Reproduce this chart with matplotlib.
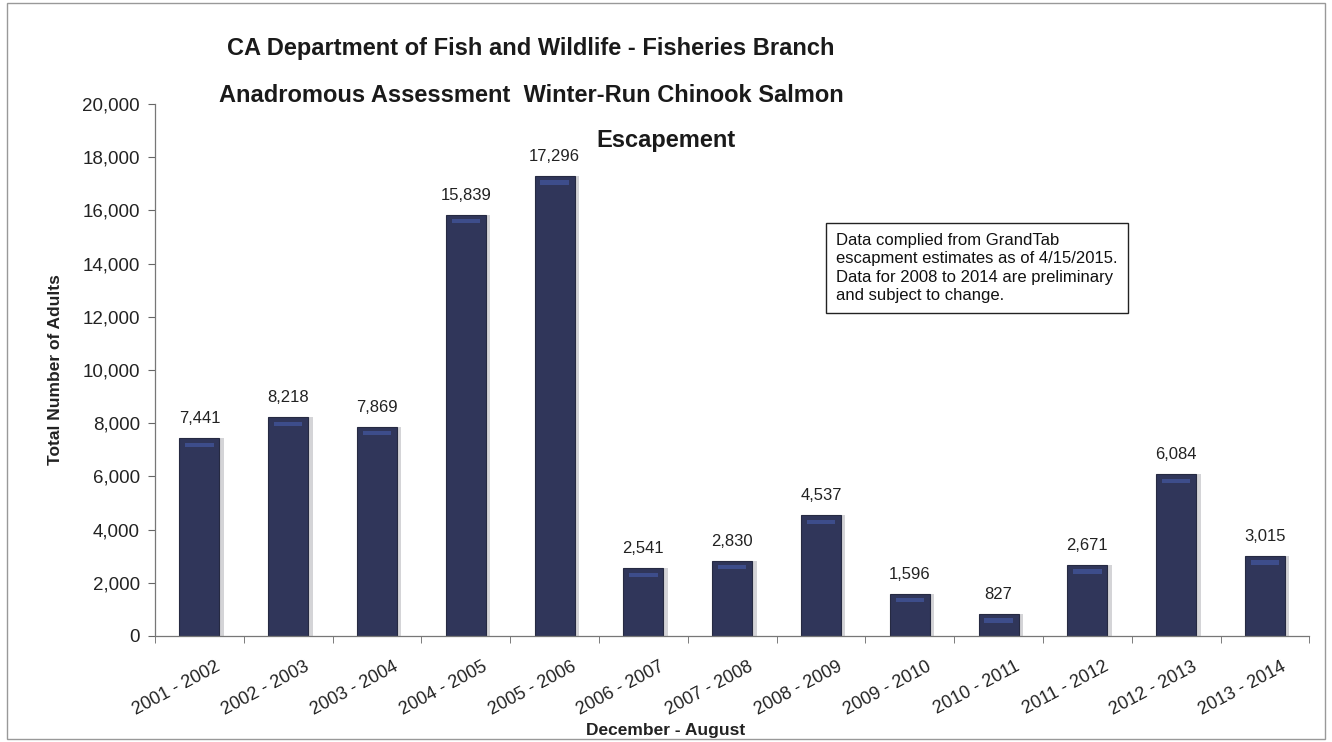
import numpy as np
import matplotlib.pyplot as plt
import matplotlib.transforms as mtransforms
from matplotlib.patches import Rectangle

seasons = ['2001 - 2002', '2002 - 2003', '2003 - 2004', '2004 - 2005', '2005 - 2006',
           '2006 - 2007', '2007 - 2008', '2008 - 2009', '2009 - 2010', '2010 - 2011',
           '2011 - 2012', '2012 - 2013', '2013 - 2014']
adults = [7441, 8218, 7869, 15839, 17296, 2541, 2830, 4537, 1596, 827, 2671, 6084, 3015]

plt.rcParams['font.family'] = ['Liberation Sans', 'DejaVu Sans']
ink = '#222222'

fig = plt.figure(figsize=(13.32, 7.42), dpi=100)
ax = fig.add_axes([0.1164, 0.1429, 0.8666, 0.7169])

x = np.arange(len(seasons))
# soft shadow behind each bar
ax.bar(x + 0.05, adults, width=0.45, color='#a0a0a8', alpha=0.45, zorder=1)
ax.bar(x, adults, width=0.45, color='#30365a', edgecolor='#262a42', linewidth=0.8, zorder=2)
# faint blue glow at the top of each bar
ax.bar(x, [160] * len(x), bottom=np.array(adults) - 330, width=0.32,
       color='#4358a0', alpha=0.7, zorder=3)

for xi, v in zip(x, adults):
    ax.text(xi, v + 450, f'{v:,}', ha='center', va='bottom', fontsize=12, color=ink)

ax.set_xlim(-0.5, len(seasons) - 0.5)
ax.set_ylim(0, 20000)
yt = np.arange(0, 20001, 2000)
ax.set_yticks(yt)
ax.set_yticklabels([f'{t:,}' for t in yt], fontsize=13.5, color=ink)
ax.set_xticks(x)
ax.set_xticklabels(seasons, rotation=28, ha='right', va='center', rotation_mode='anchor',
                   fontsize=13, color=ink)
ax.set_xticks(np.arange(-0.5, len(seasons), 1), minor=True)
ax.tick_params(axis='x', which='major', length=0, pad=0)
ax.tick_params(axis='x', which='minor', length=5, color='#666666')
ax.tick_params(axis='y', length=5, color='#666666', pad=6)

shift = mtransforms.ScaledTranslation(20 / 100, -30 / 100, fig.dpi_scale_trans)
for lab in ax.get_xticklabels():
    lab.set_transform(lab.get_transform() + shift)

for s in ['top', 'right']:
    ax.spines[s].set_visible(False)
for s in ['left', 'bottom']:
    ax.spines[s].set_color('#777777')
    ax.spines[s].set_linewidth(0.9)

ax.set_ylabel('Total Number of Adults', fontsize=12.5, fontweight='bold', labelpad=14, color=ink)
fig.text(0.5, 0.006, 'December - August', ha='center', va='bottom', fontsize=12.5,
         fontweight='bold', color=ink)

title_kw = dict(ha='center', va='center', fontsize=17, fontweight='bold', color='#1a1a1a')
fig.text(531 / 1332, 1 - 48 / 742, 'CA Department of Fish and Wildlife - Fisheries Branch', **title_kw)
fig.text(531 / 1332, 1 - 95 / 742, 'Anadromous Assessment  Winter-Run Chinook Salmon', **title_kw)
fig.text(666 / 1332, 1 - 141 / 742, 'Escapement', **title_kw)

note = ('Data complied from GrandTab\n'
        'escapment estimates as of 4/15/2015.\n'
        'Data for 2008 to 2014 are preliminary\n'
        'and subject to change.')
fig.text(836 / 1332, 1 - 268 / 742, note, ha='left', va='center', fontsize=12,
         linespacing=1.3, color='#111111',
         bbox=dict(boxstyle='square,pad=0.6', facecolor='white', edgecolor='#222222', linewidth=1.0))

fig.patches.append(Rectangle((0.005, 0.004), 0.99, 0.992, transform=fig.transFigure,
                             fill=False, edgecolor='#999999', linewidth=1.0))

fig.savefig('out.png', dpi=100)
